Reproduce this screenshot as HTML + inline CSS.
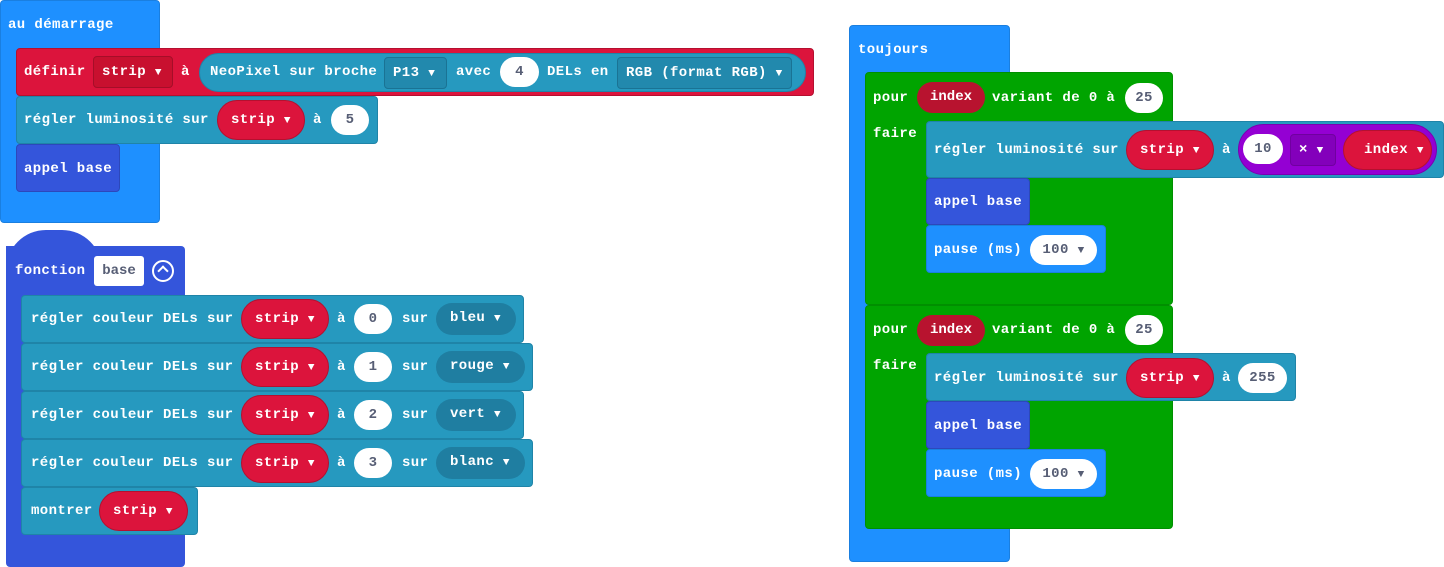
<!DOCTYPE html>
<html><head><meta charset="utf-8"><style>
body{margin:0;width:1444px;height:567px;background:#fff;position:relative;overflow:hidden}
div{position:absolute;box-sizing:border-box}
.b{border-radius:4px}
.t{color:#fff;font:bold 14px "Liberation Mono",monospace;letter-spacing:.4px;white-space:nowrap;transform:translateY(-50%);line-height:16px}
.n{color:#575e75;font:bold 14px "Liberation Mono",monospace;letter-spacing:.4px;background:#fff;border-radius:16px;text-align:center;line-height:30px;height:30px}
.pr{background:#dc143c;border:1px solid #b5102f;border-radius:20px;color:#fff;font:bold 14px "Liberation Mono",monospace;letter-spacing:.4px;line-height:38px;height:40px;padding-left:13px;white-space:nowrap}
.dd{border-radius:4px;color:#fff;font:bold 14px "Liberation Mono",monospace;letter-spacing:.4px;line-height:31px;height:32px;padding-left:8px;white-space:nowrap}
.dt{background:#1f7ea1;border-radius:16px;padding-left:14px}
.teal{background:#2699bf;border:1px solid #1f84a8}
.blue{background:#1e90ff;border:1px solid #1a7fe0}
.fn{background:#3455db;border:1px solid #2c48bb}
.gr{background:#00a400;border:1px solid #008f00}
i{font-style:normal;font-size:11px}
</style></head><body>

<!-- au démarrage -->
<div class="b blue" style="left:0;top:0;width:160px;height:223px"></div>
<div class="t" style="left:8px;top:25px">au démarrage</div>
<div class="b" style="left:16px;top:48px;width:798px;height:48px;background:#dc143c;border:1px solid #b5102f"></div>
<div class="t" style="left:24px;top:72px">définir</div>
<div class="dd" style="left:93px;top:56px;width:80px;background:#c8102f;border:1px solid #a50e28">strip <i>▼</i></div>
<div class="t" style="left:181px;top:72px">à</div>
<div style="left:199px;top:53px;width:607px;height:39px;background:#2699bf;border:1px solid #1f84a8;border-radius:20px"></div>
<div class="t" style="left:210px;top:72px">NeoPixel sur broche</div>
<div class="dd" style="left:384px;top:57px;width:63px;background:#2289ad;border:1px solid #1a7394">P13 <i>▼</i></div>
<div class="t" style="left:456px;top:72px">avec</div>
<div class="n" style="left:500px;top:57px;width:39px">4</div>
<div class="t" style="left:547px;top:72px">DELs en</div>
<div class="dd" style="left:617px;top:57px;width:175px;background:#2289ad;border:1px solid #1a7394">RGB (format RGB) <i>▼</i></div>
<div class="b teal" style="left:16px;top:96px;width:362px;height:48px"></div>
<div class="t" style="left:24px;top:120px">régler luminosité sur</div>
<div class="pr" style="left:217px;top:100px;width:88px">strip <i>▼</i></div>
<div class="t" style="left:313px;top:120px">à</div>
<div class="n" style="left:331px;top:105px;width:38px">5</div>
<div class="b fn" style="left:16px;top:144px;width:104px;height:48px"></div>
<div class="t" style="left:24px;top:169px">appel base</div>

<!-- fonction -->
<div class="fn" style="left:6px;top:230px;width:96px;height:40px;border-radius:48px 48px 0 0;border:none"></div>
<div class="b fn" style="left:6px;top:246px;width:179px;height:321px;border-radius:0 4px 4px 4px;border:none"></div>
<div class="t" style="left:15px;top:271px">fonction</div>
<div style="left:94px;top:256px;width:50px;height:30px;background:#fff;border-radius:3px;color:#575e75;font:bold 14px 'Liberation Mono',monospace;text-align:center;line-height:30px">base</div>
<div style="left:152px;top:260px;width:22px;height:22px;border:2px solid #fff;border-radius:50%"></div>
<div style="left:159px;top:267px;width:8px;height:8px;border-left:2px solid #fff;border-top:2px solid #fff;transform:rotate(45deg)"></div>

<div class="b teal" style="left:21px;top:295px;width:503px;height:48px"></div>
<div class="t" style="left:31px;top:319px">régler couleur DELs sur</div>
<div class="pr" style="left:241px;top:299px;width:88px">strip <i>▼</i></div>
<div class="t" style="left:337px;top:319px">à</div>
<div class="n" style="left:354px;top:304px;width:38px">0</div>
<div class="t" style="left:402px;top:319px">sur</div>
<div class="dd dt" style="left:436px;top:303px;width:80px">bleu <i>▼</i></div>

<div class="b teal" style="left:21px;top:343px;width:512px;height:48px"></div>
<div class="t" style="left:31px;top:367px">régler couleur DELs sur</div>
<div class="pr" style="left:241px;top:347px;width:88px">strip <i>▼</i></div>
<div class="t" style="left:337px;top:367px">à</div>
<div class="n" style="left:354px;top:352px;width:38px">1</div>
<div class="t" style="left:402px;top:367px">sur</div>
<div class="dd dt" style="left:436px;top:351px;width:89px">rouge <i>▼</i></div>

<div class="b teal" style="left:21px;top:391px;width:503px;height:48px"></div>
<div class="t" style="left:31px;top:415px">régler couleur DELs sur</div>
<div class="pr" style="left:241px;top:395px;width:88px">strip <i>▼</i></div>
<div class="t" style="left:337px;top:415px">à</div>
<div class="n" style="left:354px;top:400px;width:38px">2</div>
<div class="t" style="left:402px;top:415px">sur</div>
<div class="dd dt" style="left:436px;top:399px;width:80px">vert <i>▼</i></div>

<div class="b teal" style="left:21px;top:439px;width:512px;height:48px"></div>
<div class="t" style="left:31px;top:463px">régler couleur DELs sur</div>
<div class="pr" style="left:241px;top:443px;width:88px">strip <i>▼</i></div>
<div class="t" style="left:337px;top:463px">à</div>
<div class="n" style="left:354px;top:448px;width:38px">3</div>
<div class="t" style="left:402px;top:463px">sur</div>
<div class="dd dt" style="left:436px;top:447px;width:89px">blanc <i>▼</i></div>

<div class="b teal" style="left:21px;top:487px;width:177px;height:48px"></div>
<div class="t" style="left:31px;top:511px">montrer</div>
<div class="pr" style="left:99px;top:491px;width:89px">strip <i>▼</i></div>

<!-- toujours -->
<div class="b blue" style="left:849px;top:25px;width:161px;height:537px"></div>
<div class="t" style="left:858px;top:50px">toujours</div>

<!-- loop 1 -->
<div class="b gr" style="left:865px;top:72px;width:308px;height:233px"></div>
<div class="t" style="left:873px;top:98px">pour</div>
<div style="left:917px;top:82px;width:68px;height:31px;background:#b8132f;border-radius:16px;color:#fff;font:bold 14px 'Liberation Mono',monospace;line-height:31px;text-align:center">index</div>
<div class="t" style="left:992px;top:98px">variant de 0 à</div>
<div class="n" style="left:1125px;top:83px;width:38px">25</div>
<div class="t" style="left:873px;top:134px">faire</div>
<div class="b teal" style="left:926px;top:121px;width:518px;height:57px"></div>
<div class="t" style="left:934px;top:150px">régler luminosité sur</div>
<div class="pr" style="left:1126px;top:130px;width:88px">strip <i>▼</i></div>
<div class="t" style="left:1222px;top:150px">à</div>
<div style="left:1238px;top:124px;width:199px;height:51px;background:#9400d3;border:1px solid #7a00b0;border-radius:26px"></div>
<div class="n" style="left:1243px;top:134px;width:40px">10</div>
<div class="dd" style="left:1290px;top:134px;width:46px;background:#8300bb;border:1px solid #7000a0">× <i>▼</i></div>
<div class="pr" style="left:1343px;top:130px;width:89px;padding-left:20px">index <i>▼</i></div>
<div class="b fn" style="left:926px;top:178px;width:104px;height:47px"></div>
<div class="t" style="left:934px;top:202px">appel base</div>
<div class="b blue" style="left:926px;top:225px;width:180px;height:48px"></div>
<div class="t" style="left:934px;top:250px">pause (ms)</div>
<div class="n" style="left:1030px;top:235px;width:67px">100 <i>▼</i></div>

<!-- loop 2 -->
<div class="b gr" style="left:865px;top:305px;width:308px;height:224px"></div>
<div class="t" style="left:873px;top:330px">pour</div>
<div style="left:917px;top:315px;width:68px;height:31px;background:#b8132f;border-radius:16px;color:#fff;font:bold 14px 'Liberation Mono',monospace;line-height:31px;text-align:center">index</div>
<div class="t" style="left:992px;top:330px">variant de 0 à</div>
<div class="n" style="left:1125px;top:315px;width:38px">25</div>
<div class="t" style="left:873px;top:366px">faire</div>
<div class="b teal" style="left:926px;top:353px;width:370px;height:48px"></div>
<div class="t" style="left:934px;top:378px">régler luminosité sur</div>
<div class="pr" style="left:1126px;top:358px;width:88px">strip <i>▼</i></div>
<div class="t" style="left:1222px;top:378px">à</div>
<div class="n" style="left:1238px;top:363px;width:49px">255</div>
<div class="b fn" style="left:926px;top:401px;width:104px;height:48px"></div>
<div class="t" style="left:934px;top:426px">appel base</div>
<div class="b blue" style="left:926px;top:449px;width:180px;height:48px"></div>
<div class="t" style="left:934px;top:474px">pause (ms)</div>
<div class="n" style="left:1030px;top:459px;width:67px">100 <i>▼</i></div>
</body></html>
